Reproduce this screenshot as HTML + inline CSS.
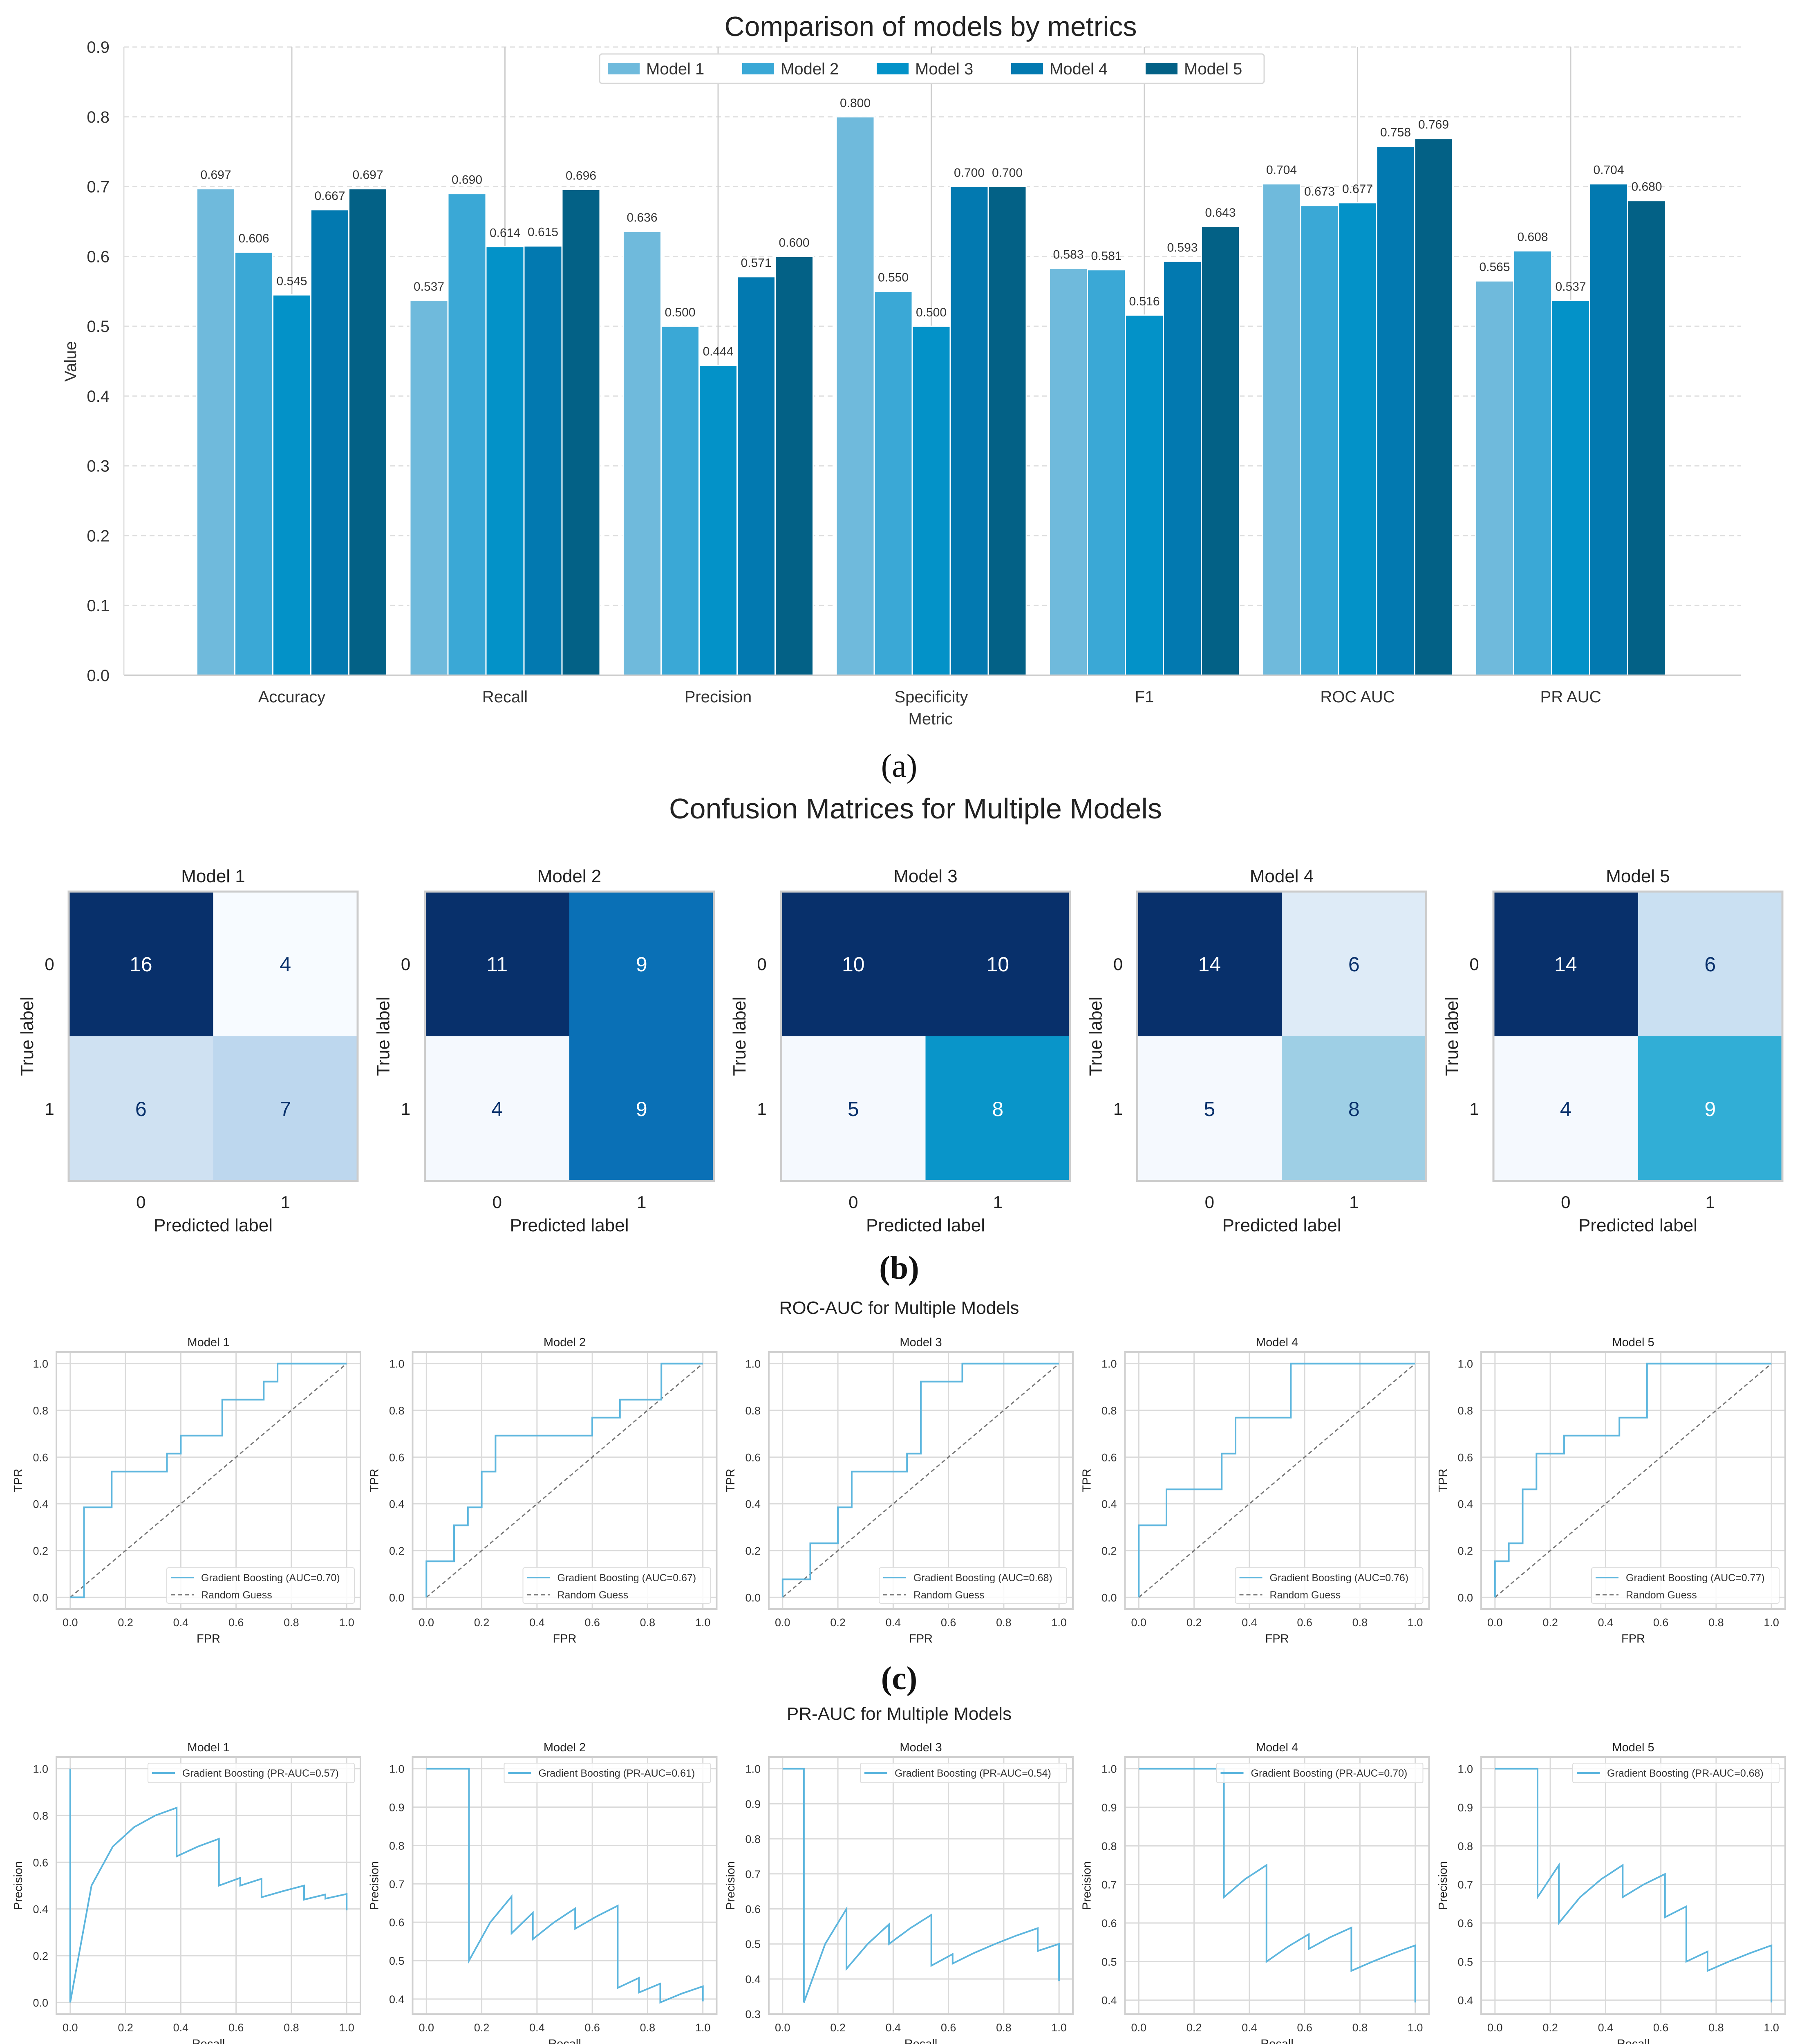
<!DOCTYPE html>
<html><head><meta charset="utf-8"><style>
html,body{margin:0;padding:0;background:#fff;width:4409px;height:5158px;overflow:hidden;}
svg{display:block;position:absolute;left:0;top:0;font-family:"Liberation Sans",sans-serif;}
</style></head>
<body>
<svg id="fig" xmlns="http://www.w3.org/2000/svg" width="4409" height="5158" viewBox="0 0 4409 5158">
<rect x="0" y="0" width="4409" height="5158" fill="#fff"/>
<g id="barChart"></g>
<g id="cmChart"></g>
<g id="rocChart"></g>
<g id="prChart"></g>
</svg>
<script>
const metrics = ["Accuracy","Recall","Precision","Specificity","F1","ROC AUC","PR AUC"];
const modelNames = ["Model 1","Model 2","Model 3","Model 4","Model 5"];
const model1Vals = [0.697,0.537,0.636,0.800,0.583,0.704,0.565];
const model2Vals = [0.606,0.690,0.500,0.550,0.581,0.673,0.608];
const model3Vals = [0.545,0.614,0.444,0.500,0.516,0.677,0.537];
const model4Vals = [0.667,0.615,0.571,0.700,0.593,0.758,0.704];
const model5Vals = [0.697,0.696,0.600,0.700,0.643,0.769,0.680];
const barYTicks = [0.0,0.1,0.2,0.3,0.4,0.5,0.6,0.7,0.8,0.9];

const cm1 = [[16,4],[6,7]];
const cm2 = [[11,9],[4,9]];
const cm3 = [[10,10],[5,8]];
const cm4 = [[14,6],[5,8]];
const cm5 = [[14,6],[4,9]];

const roc1Fpr = [0,0.05,0.05,0.15,0.15,0.35,0.35,0.4,0.4,0.55,0.55,0.7,0.7,0.75,0.75,1];
const roc1Tpr = [0,0,0.385,0.385,0.538,0.538,0.615,0.615,0.692,0.692,0.846,0.846,0.923,0.923,1,1];
const roc2Fpr = [0,0,0.1,0.1,0.15,0.15,0.2,0.2,0.25,0.25,0.6,0.6,0.7,0.7,0.85,0.85,1];
const roc2Tpr = [0,0.154,0.154,0.308,0.308,0.385,0.385,0.538,0.538,0.692,0.692,0.769,0.769,0.846,0.846,1,1];
const roc3Fpr = [0,0,0.1,0.1,0.2,0.2,0.25,0.25,0.45,0.45,0.5,0.5,0.65,0.65,1];
const roc3Tpr = [0,0.077,0.077,0.231,0.231,0.385,0.385,0.538,0.538,0.615,0.615,0.923,0.923,1,1];
const roc4Fpr = [0,0,0.1,0.1,0.3,0.3,0.35,0.35,0.55,0.55,1];
const roc4Tpr = [0,0.308,0.308,0.462,0.462,0.615,0.615,0.769,0.769,1,1];
const roc5Fpr = [0,0,0.05,0.05,0.1,0.1,0.15,0.15,0.25,0.25,0.45,0.45,0.55,0.55,1];
const roc5Tpr = [0,0.154,0.154,0.231,0.231,0.462,0.462,0.615,0.615,0.692,0.692,0.769,0.769,1,1];
const rocAucLabels = ["0.70","0.67","0.68","0.76","0.77"];

const pr1Rec = [0,0,0.077,0.154,0.231,0.308,0.385,0.385,0.462,0.538,0.538,0.615,0.615,0.692,0.692,0.769,0.846,0.846,0.923,0.923,1,1];
const pr1Prec = [1,0,0.5,0.667,0.75,0.8,0.833,0.625,0.667,0.7,0.5,0.533,0.5,0.529,0.45,0.476,0.5,0.44,0.462,0.444,0.464,0.394];
const pr2Rec = [0,0.154,0.154,0.231,0.308,0.308,0.385,0.385,0.462,0.538,0.538,0.615,0.692,0.692,0.769,0.769,0.846,0.846,0.923,1,1];
const pr2Prec = [1,1,0.5,0.6,0.667,0.571,0.625,0.556,0.6,0.636,0.583,0.615,0.643,0.429,0.455,0.417,0.44,0.391,0.414,0.433,0.394];
const pr3Rec = [0,0.077,0.077,0.154,0.231,0.231,0.308,0.385,0.385,0.462,0.538,0.538,0.615,0.615,0.692,0.769,0.846,0.923,0.923,1,1];
const pr3Prec = [1,1,0.333,0.5,0.6,0.429,0.5,0.556,0.5,0.545,0.583,0.438,0.471,0.444,0.474,0.5,0.524,0.545,0.48,0.5,0.394];
const pr4Rec = [0,0.308,0.308,0.385,0.462,0.462,0.538,0.615,0.615,0.692,0.769,0.769,0.846,0.923,1,1];
const pr4Prec = [1,1,0.667,0.714,0.75,0.5,0.538,0.571,0.533,0.563,0.588,0.476,0.5,0.522,0.542,0.394];
const pr5Rec = [0,0.154,0.154,0.231,0.231,0.308,0.385,0.462,0.462,0.538,0.615,0.615,0.692,0.692,0.769,0.769,0.846,0.923,1,1];
const pr5Prec = [1,1,0.667,0.75,0.6,0.667,0.714,0.75,0.667,0.7,0.727,0.615,0.643,0.5,0.526,0.476,0.5,0.522,0.542,0.394];
const prAucLabels = ["0.57","0.61","0.54","0.70","0.68"];

const NS = "http://www.w3.org/2000/svg";
function mk(parent, tag, attrs, text){
  const e = document.createElementNS(NS, tag);
  for (const k in attrs) e.setAttribute(k, attrs[k]);
  if (text !== undefined) e.textContent = text;
  parent.appendChild(e);
  return e;
}

/* ---------- (a) bar chart ---------- */
const barColors = ["#6fbadc","#3aa8d6","#0392c8","#0279b0","#036186"];
const bar = document.getElementById('barChart');
const bx0 = 303, bx1 = 4260, by0 = 1652, byTop = 115, bYMax = 0.9;
const byScale = v => by0 - (v / bYMax) * (by0 - byTop);
const bxCenter = i => 714 + i * 521.5;
const bw = 93;
let t = mk(bar,'text',{x:2277,y:88,'font-size':68,'text-anchor':'middle',fill:'#222'},'Comparison of models by metrics');
 
barYTicks.forEach(v=>{
  const y = byScale(v);
  if (v>0){ const g = mk(bar,'line',{x1:bx0,x2:bx1,y1:y,y2:y,stroke:'#dedede','stroke-width':3,'stroke-dasharray':'12,9'});
    }
  const tl = mk(bar,'text',{x:268,y:y+14,'font-size':40,'text-anchor':'end',fill:'#333'},v.toFixed(1));
   
});
metrics.forEach((m,i)=>{
  const gl = mk(bar,'line',{x1:bxCenter(i),x2:bxCenter(i),y1:byTop,y2:by0,stroke:'#cfcfcf','stroke-width':3});
   
});
const allVals = [model1Vals,model2Vals,model3Vals,model4Vals,model5Vals];
metrics.forEach((m,i)=>{
  allVals.forEach((vals,j)=>{
    const x = bxCenter(i) + (j-2.5)*bw;
    const y = byScale(vals[i]);
    const r = mk(bar,'rect',{x:x,y:y,width:bw,height:by0-y,fill:barColors[j],stroke:'#fff','stroke-width':3});
    
    
    const lt = mk(bar,'text',{x:x+bw/2,y:y-24,'font-size':30,'text-anchor':'middle',fill:'#333'},vals[i].toFixed(3));
     
  });
  const cl = mk(bar,'text',{x:bxCenter(i),y:1718,'font-size':40,'text-anchor':'middle',fill:'#333'},m);
   
});
let ax = mk(bar,'line',{x1:bx0,x2:bx1,y1:by0,y2:by0,stroke:'#ccc','stroke-width':4});
 
ax = mk(bar,'line',{x1:bx0,x2:bx0,y1:byTop,y2:by0,stroke:'#e0e0e0','stroke-width':3});
 
t = mk(bar,'text',{x:2277,y:1772,'font-size':40,'text-anchor':'middle',fill:'#333'},'Metric');
 
t = mk(bar,'text',{x:186,y:884,'font-size':40,'text-anchor':'middle',fill:'#333',transform:'rotate(-90 186 884)'},'Value');
 
const leg = mk(bar,'g',{});
 
const lb = mk(leg,'rect',{x:1467,y:132,width:1626,height:72,fill:'#fff',stroke:'#d8d8d8','stroke-width':3,rx:6});
 
modelNames.forEach((n,j)=>{
  const lx = 1487 + j*329;
  const p = mk(leg,'rect',{x:lx,y:154,width:78,height:28,fill:barColors[j]});
   
  const lt = mk(leg,'text',{x:lx+94,y:182,'font-size':40,fill:'#333'},n);
   
});
t = mk(bar,'text',{x:2200,y:1900,'font-size':80,'text-anchor':'middle',fill:'#111','font-family':'"Liberation Serif",serif'},'(a)');
 

/* ---------- (b) confusion matrices ---------- */
const cms = [cm1,cm2,cm3,cm4,cm5];
const cmColors = [
  [["#08306b","#f7fbff"],["#cfe1f2","#bdd7ee"]],
  [["#08306b","#0a70b6"],["#f5f9fe","#0a70b6"]],
  [["#08306b","#08306b"],["#f5f9fe","#0995c9"]],
  [["#08306b","#deebf7"],["#f5f9fe","#9ecfe5"]],
  [["#08306b","#cae0f2"],["#f5f9fe","#31aed6"]]
];
const cmTextCol = [
  [["#fff","#08306b"],["#08306b","#08306b"]],
  [["#fff","#fff"],["#08306b","#fff"]],
  [["#fff","#fff"],["#08306b","#fff"]],
  [["#fff","#08306b"],["#08306b","#08306b"]],
  [["#fff","#08306b"],["#08306b","#fff"]]
];
const cmG = document.getElementById('cmChart');
t = mk(cmG,'text',{x:2240,y:2002,'font-size':70,'text-anchor':'middle',fill:'#222'},'Confusion Matrices for Multiple Models');
 
cms.forEach((cm,k)=>{
  const ox = 168 + k*871.5, oy = 2181, W = 707, H = 708;
  const g = mk(cmG,'g',{});
   
  for (let r=0;r<2;r++) for (let c=0;c<2;c++){
    const cell = mk(g,'rect',{x:ox+c*W/2,y:oy+r*H/2,width:W/2,height:H/2,fill:cmColors[k][r][c]});
     
    const ct = mk(g,'text',{x:ox+c*W/2+W/4,y:oy+r*H/2+H/4+18,'font-size':50,'text-anchor':'middle',fill:cmTextCol[k][r][c]},String(cm[r][c]));
     
  }
  const fr = mk(g,'rect',{x:ox,y:oy,width:W,height:H,fill:'none',stroke:'#ccc','stroke-width':5});
   
  let tt = mk(g,'text',{x:ox+W/2,y:2158,'font-size':44,'text-anchor':'middle',fill:'#222'},modelNames[k]);
   
  ['0','1'].forEach((lab,i)=>{
    let a = mk(g,'text',{x:ox-47,y:oy+H/4+i*H/2+15,'font-size':42,'text-anchor':'middle',fill:'#222'},lab);
     
    a = mk(g,'text',{x:ox+W/4+i*W/2,y:2955,'font-size':42,'text-anchor':'middle',fill:'#222'},lab);
     
  });
  tt = mk(g,'text',{x:ox+W/2,y:3012,'font-size':44,'text-anchor':'middle',fill:'#222'},'Predicted label');
   
  tt = mk(g,'text',{x:ox-87,y:oy+H/2,'font-size':44,'text-anchor':'middle',fill:'#222',transform:'rotate(-90 '+(ox-87)+' '+(oy+H/2)+')'},'True label');
   
});
t = mk(cmG,'text',{x:2200,y:3128,'font-size':80,'text-anchor':'middle',fill:'#111','font-weight':'bold','font-family':'"Liberation Serif",serif'},'(b)');
 

/* ---------- curve panels helper ---------- */
function panel(parent, k, boxY0, boxY1, yMin, yMax, yTicks, xs, ys, xLabel, yLabel, legendText, legendTop, diag){
  const off = k*871.5;
  const X0 = 138+off, X1 = 882+off;
  const sx = v => X0 + (v+0.05)/1.1*(X1-X0);
  const sy = v => boxY1 - (v-yMin)/(yMax-yMin)*(boxY1-boxY0);
  const g = mk(parent,'g',{});
  
  
  [0,0.2,0.4,0.6,0.8,1.0].forEach(v=>{
    const l = mk(g,'line',{x1:sx(v),x2:sx(v),y1:boxY0,y2:boxY1,stroke:'#dadada','stroke-width':3});
     
    const tl = mk(g,'text',{x:sx(v),y:boxY1+42,'font-size':27,'text-anchor':'middle',fill:'#333'},v.toFixed(1));
     
  });
  yTicks.forEach(v=>{
    const l = mk(g,'line',{x1:X0,x2:X1,y1:sy(v),y2:sy(v),stroke:'#dadada','stroke-width':3});
     
    const tl = mk(g,'text',{x:X0-20,y:sy(v)+10,'font-size':27,'text-anchor':'end',fill:'#333'},v.toFixed(1));
     
  });
  const fr = mk(g,'rect',{x:X0,y:boxY0,width:X1-X0,height:boxY1-boxY0,fill:'none',stroke:'#d0d0d0','stroke-width':4});
   
  if (diag){
    const d = mk(g,'line',{x1:sx(0),y1:sy(0),x2:sx(1),y2:sy(1),stroke:'#777','stroke-width':3,'stroke-dasharray':'10,7'});
     
  }
  const pts = xs.map((x,i)=>sx(x).toFixed(1)+','+sy(ys[i]).toFixed(1)).join(' ');
  const pl = mk(g,'polyline',{points:pts,fill:'none',stroke:'#5db6de','stroke-width':4,'stroke-linejoin':'miter'});
   
  let tt = mk(g,'text',{x:(X0+X1)/2,y:boxY0-14,'font-size':29,'text-anchor':'middle',fill:'#222'},modelNames[k]);
   
  tt = mk(g,'text',{x:(X0+X1)/2,y:boxY1+82,'font-size':29,'text-anchor':'middle',fill:'#222'},xLabel);
   
  const ylx = X0-84, yly = (boxY0+boxY1)/2;
  tt = mk(g,'text',{x:ylx,y:yly,'font-size':29,'text-anchor':'middle',fill:'#222',transform:'rotate(-90 '+ylx+' '+yly+')'},yLabel);
   
  const lg = mk(g,'g',{});
   
  const lgH = diag ? 87 : 48;
  const lgX0 = diag ? X0+270 : X0+224;
  const lr = mk(lg,'rect',{x:lgX0,y:legendTop,width:X1-15-lgX0,height:lgH,fill:'#fff','fill-opacity':0.85,stroke:'#ddd','stroke-width':2,rx:4});
   
  const ly1 = legendTop+24;
  let ll = mk(lg,'line',{x1:lgX0+10,x2:lgX0+66,y1:ly1,y2:ly1,stroke:'#5db6de','stroke-width':4});
   
  tt = mk(lg,'text',{x:lgX0+84,y:ly1+9,'font-size':25,fill:'#333'},legendText);
   
  if (diag){
    const ly2 = legendTop+66;
    ll = mk(lg,'line',{x1:lgX0+10,x2:lgX0+66,y1:ly2,y2:ly2,stroke:'#777','stroke-width':3,'stroke-dasharray':'10,7'});
     
    tt = mk(lg,'text',{x:lgX0+84,y:ly2+9,'font-size':25,fill:'#333'},'Random Guess');
     
  }
}

/* ---------- (c) ROC ---------- */
const rocG = document.getElementById('rocChart');
t = mk(rocG,'text',{x:2200,y:3214,'font-size':44,'text-anchor':'middle',fill:'#222'},'ROC-AUC for Multiple Models');
 
const rocF = [roc1Fpr,roc2Fpr,roc3Fpr,roc4Fpr,roc5Fpr];
const rocT = [roc1Tpr,roc2Tpr,roc3Tpr,roc4Tpr,roc5Tpr];
for (let k=0;k<5;k++){
  panel(rocG,k,3307,3936,-0.05,1.05,[0,0.2,0.4,0.6,0.8,1.0],rocF[k],rocT[k],'FPR','TPR','Gradient Boosting (AUC='+rocAucLabels[k]+')',3835,true);
}
t = mk(rocG,'text',{x:2200,y:4132,'font-size':80,'text-anchor':'middle',fill:'#111','font-weight':'bold','font-family':'"Liberation Serif",serif'},'(c)');
 

/* ---------- (d) PR ---------- */
const prG = document.getElementById('prChart');
t = mk(prG,'text',{x:2200,y:4207,'font-size':44,'text-anchor':'middle',fill:'#222'},'PR-AUC for Multiple Models');
 
const prR = [pr1Rec,pr2Rec,pr3Rec,pr4Rec,pr5Rec];
const prP = [pr1Prec,pr2Prec,pr3Prec,pr4Prec,pr5Prec];
for (let k=0;k<5;k++){
  const mn = Math.min(...prP[k]), mxv = Math.max(...prP[k]);
  const rng = mxv-mn;
  const yMin = mn-0.05*rng, yMax = mxv+0.05*rng;
  const step = rng>0.8 ? 0.2 : 0.1;
  const ticks = [];
  for (let v=Math.ceil(yMin/step-1e-6)*step; v<=yMax+1e-9; v+=step) ticks.push(Math.round(v*10)/10);
  panel(prG,k,4298,4927,yMin,yMax,ticks,prR[k],prP[k],'Recall','Precision','Gradient Boosting (PR-AUC='+prAucLabels[k]+')',4313,false);
}
t = mk(prG,'text',{x:2200,y:5122,'font-size':80,'text-anchor':'middle',fill:'#111','font-weight':'bold','font-family':'"Liberation Serif",serif'},'(d)');
 
</script>
</body></html>
